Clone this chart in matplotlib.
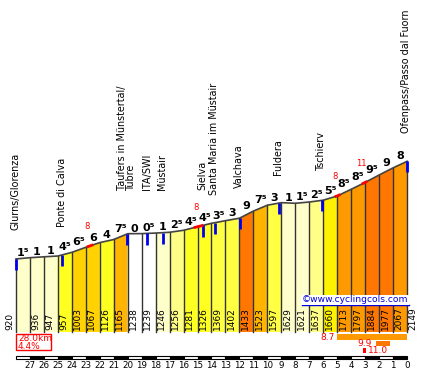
import numpy as np
import matplotlib
matplotlib.use("Agg")
import matplotlib.pyplot as plt
from matplotlib.patches import Rectangle

# km to the top and altitude (m) at each km
km = np.arange(28, -1, -1)
alt = [920, 936, 947, 957, 1003, 1067, 1126, 1165, 1238, 1239, 1246, 1256, 1281, 1326,
       1369, 1402, 1433, 1523, 1597, 1629, 1621, 1637, 1660, 1713, 1797, 1884, 1977, 2067, 2149]
# gradient printed above each km
grad = [1.5, 1, 1, 4.5, 6.5, 6, 4, 7.5, 0, 0.5, 1, 2.5, 4.5, 4.5, 3.5, 3, 9, 7.5, 3, 1,
        1.5, 2.5, 5.5, 8.5, 8.5, 9.5, 9, 8]

# places (km to top)
places = ["Glurns/Glorenza", "Ponte di Calva", "Taufers in Münstertal/\nTubre", "ITA/SWI",
          "Müstair", "Sielva", "Santa Maria im Müstair", "Valchava", "Fuldera", "Tschierv",
          "Ofenpass/Passo dal Fuorn"]
place_km = [28.0, 24.68, 20.05, 18.6, 17.5, 14.63, 13.75, 11.96, 9.17, 6.1, 0.0]
place_lab_y = [1285, 1322, 1788, 1788, 1788, 1788, 1725, 1814, 1977, 2040, 2506]

# steepest bits (red marks on the profile)
steep_val = ["8", "8", "8", "11"]
steep_from = [22.84, 15.18, 5.08, 3.15]
steep_to = [22.56, 14.68, 4.87, 2.94]

max1km = 9.9
max1km_span = (2.22, 1.22)
max_short = 11.0

# pixel layout helpers
PXKM = 391 / 28.0
PXM = 0.0794


def ypx(p):
    return (332 - p) / PXM


def col(v):
    if v < 1:
        return "#FFFFFF"
    if v < 2:
        return "#FFFFCC"
    if v < 3:
        return "#FFFF88"
    if v < 4:
        return "#FFFF44"
    if v < 5:
        return "#FFFF22"
    if v < 6:
        return "#FFF200"
    if v < 7:
        return "#FFD200"
    if v < 8:
        return "#FFB400"
    if v < 9:
        return "#FF9900"
    return "#FF7700"


def glab(v):
    s = str(int(v))
    if v % 1:
        s += "\u2075"
    return s


fig = plt.figure(figsize=(4.22, 3.72), dpi=100)
ax = fig.add_axes([0, 0, 1, 1])
ax.set_xlim(28 + 16 / PXKM, 28 - 406 / PXKM)
ax.set_ylim(ypx(372), ypx(0))
ax.axis("off")

prof = lambda k: np.interp(k, km[::-1], alt[::-1])

# bars
for i in range(28):
    x0, x1 = km[i], km[i + 1]
    ax.fill([x0, x0, x1, x1], [0, alt[i], alt[i + 1], 0], color=col(grad[i]), lw=0)
    top = max(alt[i], alt[i + 1])
    ax.text((x0 + x1) / 2, top + 25, glab(grad[i]), ha="center", va="baseline",
            fontsize=8, fontweight="bold", color="black")
for i in range(29):
    ax.plot([km[i], km[i]], [0, alt[i]], color="#333333", lw=1)
ax.plot(km, alt, color="#444444", lw=1.2)

# altitudes at the bottom
for i in range(29):
    dx = 0.43 if i == 0 else -0.43
    ax.text(km[i] + dx, ypx(330), str(alt[i]), rotation=90, ha="center", va="bottom",
            fontsize=6.5, color="black")

# place markers + names
for name, k, ly in zip(places, place_km, place_lab_y):
    e = prof(k)
    ax.plot([k, k], [e, e - 140], color="#0000EE", lw=2, solid_capstyle="butt")
    ax.text(k + 0.05, ly, name, rotation=90, ha="center", va="bottom", fontsize=6.9,
            multialignment="left", linespacing=0.95)

# steepest parts
for v, a, b in zip(steep_val, steep_from, steep_to):
    kk = np.linspace(a, b, 5)
    ax.plot(kk, prof(kk), color="red", lw=2)
    ax.text((a + b) / 2 + 2.8 / PXKM, prof(a) + 250, v, ha="center", va="center",
            fontsize=6, color="red")

# watermark
ax.text(28 - (302 - 16) / PXKM, ypx(300), "\u00a9www.cyclingcols.com", ha="left", va="center",
        fontsize=6.6, color="#0000DD",
        bbox=dict(boxstyle="square,pad=0.1", fc="white", ec="none"))
ax.plot([28 - (302 - 16) / PXKM, 28 - (409 - 16) / PXKM], [ypx(304.5), ypx(304.5)],
        color="#0000DD", lw=1)

# distance / average box
avg = (alt[-1] - alt[0]) / (km[0] * 10)
ax.add_patch(Rectangle((28, ypx(350)), -35 / PXKM, ypx(334) - ypx(350), fc="white", ec="red", lw=1))
ax.text(28 - 2 / PXKM, ypx(338.5), "%.1fkm" % km[0], ha="left", va="center", fontsize=6.5, color="red")
ax.text(28 - 2 / PXKM, ypx(346.5), "%.1f%%" % avg, ha="left", va="center", fontsize=6.5, color="red")

# steepest 5 km / 1 km / short bits
avg5 = (alt[-1] - alt[-6]) / 50.0
ax.add_patch(Rectangle((5, ypx(340)), -5, ypx(334) - ypx(340), fc="#FF9900", ec="none"))
ax.text(5 + 2 / PXKM, ypx(337), "%.1f" % avg5, ha="right", va="center", fontsize=6.5, color="red")
ax.add_patch(Rectangle((max1km_span[0], ypx(346)), max1km_span[1] - max1km_span[0],
                       ypx(341) - ypx(346), fc="#FF7700", ec="none"))
ax.text(max1km_span[0] + 4 / PXKM, ypx(343.5), "%.1f" % max1km, ha="right", va="center",
        fontsize=6.5, color="red")
ax.add_patch(Rectangle((steep_from[3], ypx(353)), steep_to[3] - steep_from[3],
                       ypx(348) - ypx(353), fc="red", ec="none"))
ax.text(steep_to[3] - 2 / PXKM, ypx(350.5), "%.1f" % max_short, ha="left", va="center",
        fontsize=6.5, color="red")

# km strip
for i in range(28):
    fc = "white" if i % 2 == 0 else "black"
    ax.add_patch(Rectangle((km[i], ypx(358.5)), -1, ypx(355.5) - ypx(358.5), fc=fc,
                           ec="black", lw=0.8))
for i in range(1, 29):
    ax.text(km[i], ypx(365.5), str(km[i]), ha="center", va="center", fontsize=6.3)

fig.savefig("out.png", dpi=100)
